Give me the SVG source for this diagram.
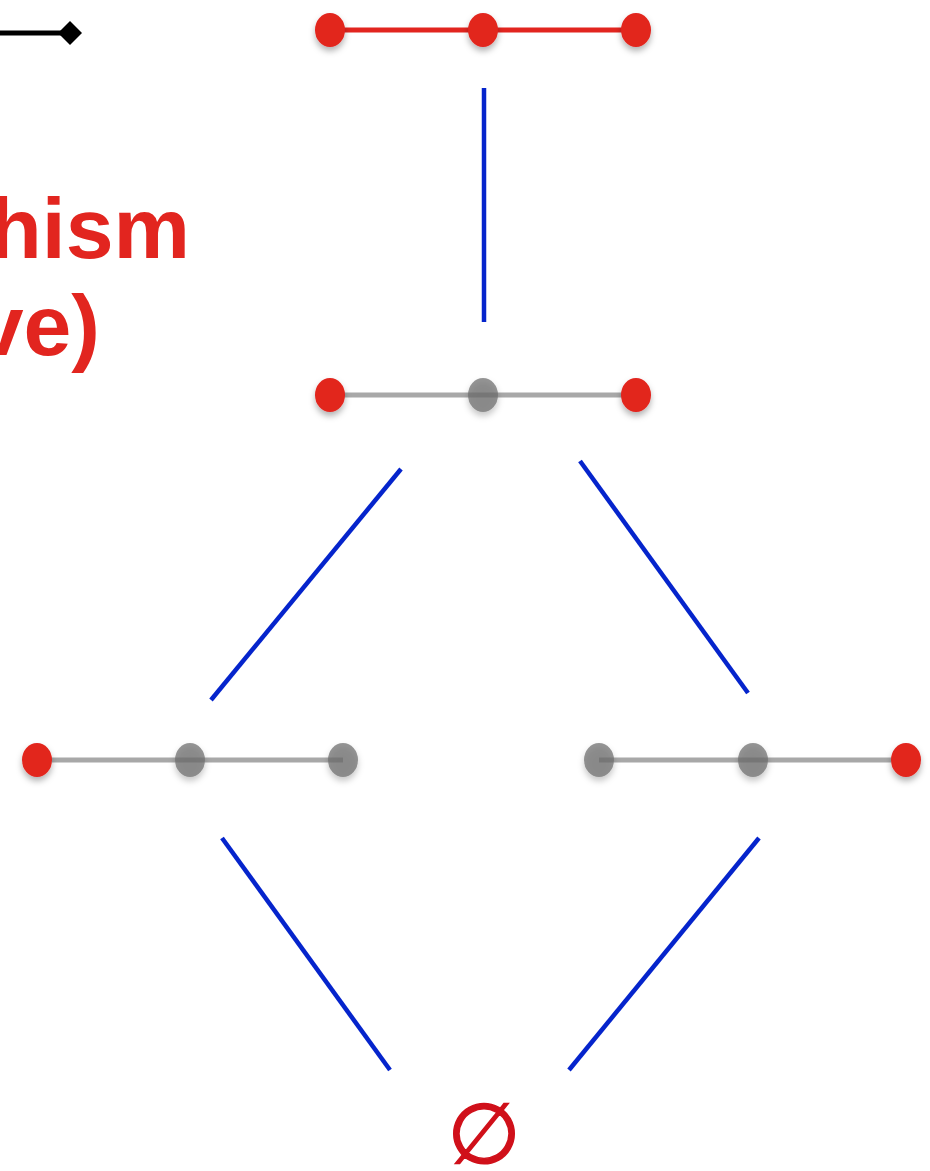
<svg xmlns="http://www.w3.org/2000/svg" width="930" height="1171" viewBox="0 0 930 1171">
<defs>
<filter id="sh" x="-50%" y="-50%" width="200%" height="200%">
<feDropShadow dx="0" dy="4" stdDeviation="3" flood-color="#000" flood-opacity="0.3"/>
</filter>
</defs>
<style>
.red{fill:#E2251F}
.grey{fill:#6e6e6e;fill-opacity:0.72}
.rl{stroke:#E2251F;stroke-width:5}
.gl{stroke:#7a7a7a;stroke-opacity:0.65;stroke-width:5}
.bl{stroke:#0524CC;stroke-width:4.5;fill:none}
.t{font-family:"Liberation Sans",Arial,sans-serif;font-weight:bold;font-size:86px;fill:#E2251F}
</style>
<rect width="930" height="1171" fill="#fff"/>
<g id="legend">
<line x1="0" y1="33" x2="62" y2="33" stroke="#000" stroke-width="5"/>
<polygon points="70,21 82,33 70,45 58,33" fill="#000"/>
</g>
<g id="title">
<text class="t" x="190" y="258" text-anchor="end">hism</text>
<text class="t" x="100" y="355" text-anchor="end">ve)</text>
</g>
<g id="connectors">
<line class="bl" x1="484" y1="88" x2="484" y2="322"/>
<line class="bl" x1="401" y1="469" x2="211" y2="700"/>
<line class="bl" x1="580" y1="461" x2="748" y2="693"/>
<line class="bl" x1="222" y1="838" x2="390" y2="1070"/>
<line class="bl" x1="759" y1="838" x2="569" y2="1070"/>
</g>
<g id="node-top">
<line class="rl" x1="330" y1="30" x2="636" y2="30"/>
<g filter="url(#sh)">
<ellipse class="red" cx="330" cy="30" rx="15" ry="17"/>
<ellipse class="red" cx="483" cy="30" rx="15" ry="17"/>
<ellipse class="red" cx="636" cy="30" rx="15" ry="17"/>
</g>
</g>
<g id="node-middle">
<line class="gl" x1="330" y1="395" x2="636" y2="395"/>
<g filter="url(#sh)">
<ellipse class="red" cx="330" cy="395" rx="15" ry="17"/>
<ellipse class="grey" cx="483" cy="395" rx="15" ry="17"/>
<ellipse class="red" cx="636" cy="395" rx="15" ry="17"/>
</g>
</g>
<g id="node-left">
<line class="gl" x1="37" y1="760" x2="343" y2="760"/>
<g filter="url(#sh)">
<ellipse class="red" cx="37" cy="760" rx="15" ry="17"/>
<ellipse class="grey" cx="190" cy="760" rx="15" ry="17"/>
<ellipse class="grey" cx="343" cy="760" rx="15" ry="17"/>
</g>
</g>
<g id="node-right">
<line class="gl" x1="599" y1="760" x2="906" y2="760"/>
<g filter="url(#sh)">
<ellipse class="grey" cx="599" cy="760" rx="15" ry="17"/>
<ellipse class="grey" cx="753" cy="760" rx="15" ry="17"/>
<ellipse class="red" cx="906" cy="760" rx="15" ry="17"/>
</g>
</g>
<g id="node-empty">
<text x="484" y="1163" text-anchor="middle" font-family="DejaVu Sans,sans-serif" font-size="84" fill="#D0101A" stroke="#D0101A" stroke-width="1.5">∅</text>
</g>
</svg>
